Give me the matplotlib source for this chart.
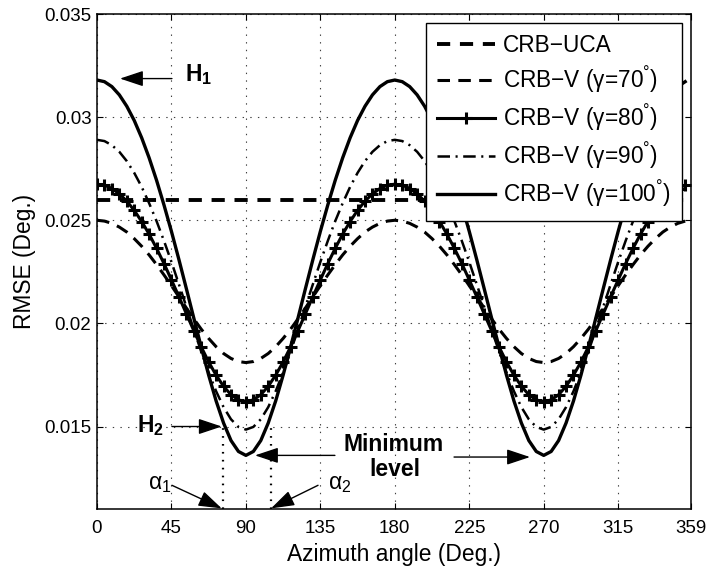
import matplotlib
matplotlib.use('Agg')
import matplotlib.pyplot as plt

plt.rcParams['font.family'] = ['Liberation Sans', 'DejaVu Sans']
plt.rcParams['mathtext.default'] = 'regular'
plt.rcParams['lines.scale_dashes'] = False

# azimuth samples (deg.)
angle = [0, 4.5, 9, 13.5, 18, 22.5, 27, 31.5, 36, 40.5,
         45, 49.5, 54, 58.5, 63, 67.5, 72, 76.5, 81, 85.5,
         90, 94.5, 99, 103.5, 108, 112.5, 117, 121.5, 126, 130.5,
         135, 139.5, 144, 148.5, 153, 157.5, 162, 166.5, 171, 175.5,
         180, 184.5, 189, 193.5, 198, 202.5, 207, 211.5, 216, 220.5,
         225, 229.5, 234, 238.5, 243, 247.5, 252, 256.5, 261, 265.5,
         270, 274.5, 279, 283.5, 288, 292.5, 297, 301.5, 306, 310.5,
         315, 319.5, 324, 328.5, 333, 337.5, 342, 346.5, 351, 355.5]

uca_angle = [0, 359]
rmse_uca = [0.026, 0.026]

rmse_70 = [0.02500, 0.02496, 0.02485, 0.02467, 0.02443, 0.02411, 0.02374, 0.02332, 0.02285, 0.02235,
           0.02183, 0.02129, 0.02075, 0.02022, 0.01972, 0.01927, 0.01887, 0.01854, 0.01830, 0.01815,
           0.01810, 0.01815, 0.01830, 0.01854, 0.01887, 0.01927, 0.01972, 0.02022, 0.02075, 0.02129,
           0.02183, 0.02235, 0.02285, 0.02332, 0.02374, 0.02411, 0.02443, 0.02467, 0.02485, 0.02496,
           0.02500, 0.02496, 0.02485, 0.02467, 0.02443, 0.02411, 0.02374, 0.02332, 0.02285, 0.02235,
           0.02183, 0.02129, 0.02075, 0.02022, 0.01972, 0.01927, 0.01887, 0.01854, 0.01830, 0.01815,
           0.01810, 0.01815, 0.01830, 0.01854, 0.01887, 0.01927, 0.01972, 0.02022, 0.02075, 0.02129,
           0.02183, 0.02235, 0.02285, 0.02332, 0.02374, 0.02411, 0.02443, 0.02467, 0.02485, 0.02496]

rmse_80 = [0.02675, 0.02670, 0.02654, 0.02628, 0.02593, 0.02548, 0.02494, 0.02433, 0.02364, 0.02290,
           0.02211, 0.02130, 0.02047, 0.01965, 0.01886, 0.01813, 0.01749, 0.01695, 0.01654, 0.01629,
           0.01620, 0.01629, 0.01654, 0.01695, 0.01749, 0.01813, 0.01886, 0.01965, 0.02047, 0.02130,
           0.02211, 0.02290, 0.02364, 0.02433, 0.02494, 0.02548, 0.02593, 0.02628, 0.02654, 0.02670,
           0.02675, 0.02670, 0.02654, 0.02628, 0.02593, 0.02548, 0.02494, 0.02433, 0.02364, 0.02290,
           0.02211, 0.02130, 0.02047, 0.01965, 0.01886, 0.01813, 0.01749, 0.01695, 0.01654, 0.01629,
           0.01620, 0.01629, 0.01654, 0.01695, 0.01749, 0.01813, 0.01886, 0.01965, 0.02047, 0.02130,
           0.02211, 0.02290, 0.02364, 0.02433, 0.02494, 0.02548, 0.02593, 0.02628, 0.02654, 0.02670]

rmse_90 = [0.02890, 0.02884, 0.02864, 0.02832, 0.02787, 0.02730, 0.02662, 0.02583, 0.02496, 0.02400,
           0.02298, 0.02190, 0.02081, 0.01971, 0.01863, 0.01762, 0.01671, 0.01594, 0.01535, 0.01498,
           0.01485, 0.01498, 0.01535, 0.01594, 0.01671, 0.01762, 0.01863, 0.01971, 0.02081, 0.02190,
           0.02298, 0.02400, 0.02496, 0.02583, 0.02662, 0.02730, 0.02787, 0.02832, 0.02864, 0.02884,
           0.02890, 0.02884, 0.02864, 0.02832, 0.02787, 0.02730, 0.02662, 0.02583, 0.02496, 0.02400,
           0.02298, 0.02190, 0.02081, 0.01971, 0.01863, 0.01762, 0.01671, 0.01594, 0.01535, 0.01498,
           0.01485, 0.01498, 0.01535, 0.01594, 0.01671, 0.01762, 0.01863, 0.01971, 0.02081, 0.02190,
           0.02298, 0.02400, 0.02496, 0.02583, 0.02662, 0.02730, 0.02787, 0.02832, 0.02864, 0.02884]

rmse_100 = [0.03180, 0.03172, 0.03148, 0.03108, 0.03053, 0.02984, 0.02900, 0.02803, 0.02694, 0.02574,
            0.02446, 0.02310, 0.02169, 0.02026, 0.01885, 0.01749, 0.01624, 0.01517, 0.01432, 0.01379,
            0.01360, 0.01379, 0.01432, 0.01517, 0.01624, 0.01749, 0.01885, 0.02026, 0.02169, 0.02310,
            0.02446, 0.02574, 0.02694, 0.02803, 0.02900, 0.02984, 0.03053, 0.03108, 0.03148, 0.03172,
            0.03180, 0.03172, 0.03148, 0.03108, 0.03053, 0.02984, 0.02900, 0.02803, 0.02694, 0.02574,
            0.02446, 0.02310, 0.02169, 0.02026, 0.01885, 0.01749, 0.01624, 0.01517, 0.01432, 0.01379,
            0.01360, 0.01379, 0.01432, 0.01517, 0.01624, 0.01749, 0.01885, 0.02026, 0.02169, 0.02310,
            0.02446, 0.02574, 0.02694, 0.02803, 0.02900, 0.02984, 0.03053, 0.03108, 0.03148, 0.03172]

xticks = [0, 45, 90, 135, 180, 225, 270, 315, 359]
yticks = [0.015, 0.02, 0.025, 0.03, 0.035]
ytick_labels = ['0.015', '0.02', '0.025', '0.03', '0.035']

# where the two alpha marker lines sit
alpha1 = 76.3
alpha2 = 105.2

fig = plt.figure(figsize=(7.1, 5.7), dpi=100)
ax = fig.add_axes([0.1366, 0.107, 0.8366, 0.8684])

deg = '$^{\u00b0}$'
ax.plot(uca_angle, rmse_uca, color='k', lw=2.8, dashes=(9.5, 7), label='CRB\u2212UCA')
ax.plot(angle, rmse_70, color='k', lw=2.2, dashes=(9, 6), label='CRB\u2212V (\u03b3=70' + deg + ')')
ax.plot(angle, rmse_80, color='k', lw=2.2, marker='+', ms=8, mew=2.2,
        label='CRB\u2212V (\u03b3=80' + deg + ')')
ax.plot(angle, rmse_90, color='k', lw=1.8, dashes=(9, 4, 1.5, 4), label='CRB\u2212V (\u03b3=90' + deg + ')')
ax.plot(angle, rmse_100, color='k', lw=2.4, label='CRB\u2212V (\u03b3=100' + deg + ')')

ax.set_xlim(0, 359)
ax.set_ylim(0.011, 0.035)
ax.set_xticks(xticks)
ax.set_yticks(yticks)
ax.set_yticklabels(ytick_labels)
ax.grid(True, color='0.25', lw=0.8, linestyle=(0, (1, 4.5)))
ax.tick_params(direction='in', top=True, right=True, length=4, width=0.8, labelsize=13.5)
ax.tick_params(axis='x', pad=8)
ax.tick_params(axis='y', pad=4)
for s in ax.spines.values():
    s.set_linewidth(1.1)

ax.set_xlabel('Azimuth angle (Deg.)', fontsize=16.4, labelpad=4)
ax.set_ylabel('RMSE (Deg.)', fontsize=16.4, labelpad=6)

leg = ax.legend(loc='upper right', bbox_to_anchor=(0.985, 0.982), borderaxespad=0,
                fontsize=16.3, handlelength=2.57, handletextpad=0.35, labelspacing=0.35,
                borderpad=0.5, fancybox=False, framealpha=1, edgecolor='k')
leg.get_frame().set_linewidth(1.0)

# annotations
arrow = dict(arrowstyle='-|>,head_length=0.9,head_width=0.3', color='k', lw=1,
             mutation_scale=16, shrinkA=0, shrinkB=0)
ax.annotate('', xy=(13.9, 0.03187), xytext=(45.3, 0.03187), arrowprops=arrow)
ax.text(53.2, 0.03176, 'H$_1$', fontsize=16.5, fontweight='bold', va='baseline')

ax.annotate('', xy=(75.4, 0.015), xytext=(45.3, 0.015), arrowprops=arrow)
ax.text(24.2, 0.01471, 'H$_2$', fontsize=16.5, fontweight='bold', va='baseline')

ax.plot([alpha1, alpha1], [0.011, 0.015], color='k', lw=1.6, linestyle=(0, (1.2, 4.5)))
ax.plot([alpha2, alpha2], [0.011, 0.015], color='k', lw=1.6, linestyle=(0, (1.2, 4.5)))
ax.annotate('', xy=(75.4, 0.01103), xytext=(45.3, 0.01215), arrowprops=arrow)
ax.text(30.8, 0.01196, '\u03b1$_1$', fontsize=16.5, va='baseline')
ax.annotate('', xy=(105.2, 0.01103), xytext=(133.6, 0.01215), arrowprops=arrow)
ax.text(139.6, 0.01196, '\u03b1$_2$', fontsize=16.5, va='baseline')

ax.annotate('', xy=(95.5, 0.0136), xytext=(143.8, 0.0136), arrowprops=arrow)
ax.annotate('', xy=(261.7, 0.01352), xytext=(215.8, 0.01352), arrowprops=arrow)
ax.text(179, 0.01381, 'Minimum', fontsize=16.5, fontweight='bold', ha='center', va='baseline')
ax.text(180, 0.01258, 'level', fontsize=16.5, fontweight='bold', ha='center', va='baseline')

fig.savefig('out.png', dpi=100)
